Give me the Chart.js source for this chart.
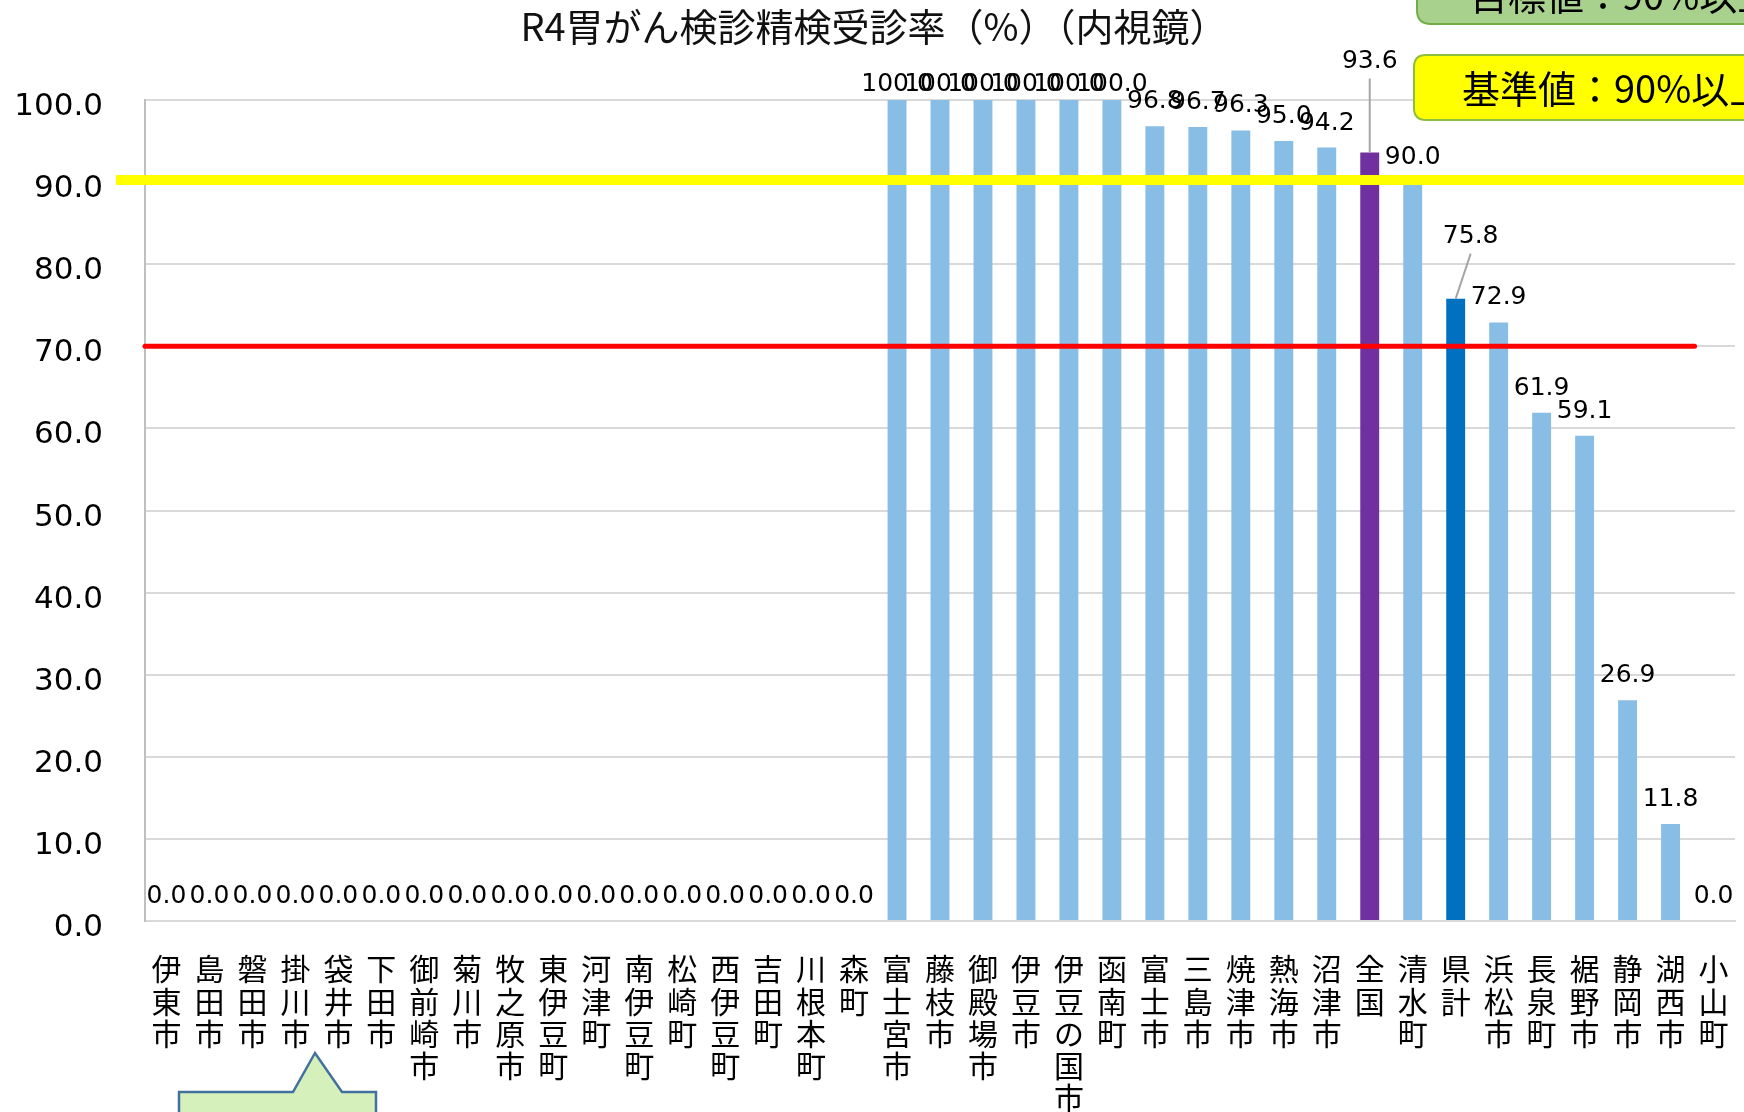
<!DOCTYPE html>
<html lang="ja">
<head>
<meta charset="UTF-8">
<title>R4胃がん検診精検受診率（内視鏡）</title>
<script src="https://cdn.jsdelivr.net/npm/chart.js@4.4.1/dist/chart.umd.min.js"></script>
<style>
  html, body { margin: 0; padding: 0; background: #fff; }
  #wrap { width: 1744px; height: 1112px; position: relative; overflow: hidden; }
</style>
</head>
<body>
<div id="wrap"><canvas id="chart" width="1744" height="1112"></canvas></div>
<script>
// chart data
const chartTitle = 'R4胃がん検診精検受診率（%）（内視鏡）';
const municipalities = [
    '伊東市', '島田市', '磐田市', '掛川市', '袋井市', '下田市', '御前崎市', '菊川市', '牧之原市',
    '東伊豆町', '河津町', '南伊豆町', '松崎町', '西伊豆町', '吉田町', '川根本町', '森町',
    '富士宮市', '藤枝市', '御殿場市', '伊豆市', '伊豆の国市', '函南町', '富士市', '三島市',
    '焼津市', '熱海市', '沼津市', '全国', '清水町', '県計', '浜松市', '長泉町', '裾野市',
    '静岡市', '湖西市', '小山町'
];
const rates = [
    0.0, 0.0, 0.0, 0.0, 0.0, 0.0, 0.0, 0.0, 0.0,
    0.0, 0.0, 0.0, 0.0, 0.0, 0.0, 0.0, 0.0,
    100.0, 100.0, 100.0, 100.0, 100.0, 100.0, 96.8, 96.7,
    96.3, 95.0, 94.2, 93.6, 90.0, 75.8, 72.9, 61.9, 59.1,
    26.9, 11.8, 0.0
];
const yTicks = [0, 10, 20, 30, 40, 50, 60, 70, 80, 90, 100];
const standardValue = 90;   // 基準値
const lowerValue = 70;
const targetText = '目標値：90%以上';
const standardText = '基準値：90%以上';

// colours
const barColor = '#88BEE6';
const nationalColor = '#7030A0';
const prefColor = '#0070C0';
const barColors = municipalities.map(m => m === '全国' ? nationalColor : (m === '県計' ? prefColor : barColor));

// labels that were pulled away from their bar (with a leader line)
const leaderLabels = {
    '全国': { dx: 0, dy: -85 },
    '県計': { dx: 15, dy: -56 }
};

// horizontal reference lines
const refLinesPlugin = {
    id: 'refLines',
    afterDatasetsDraw(chart) {
        const ctx = chart.ctx;
        const y = chart.scales.y;
        const x = chart.scales.x;
        const area = chart.chartArea;
        const redEnd = x.getPixelForValue(municipalities.length - 2) + 24;
        ctx.save();
        // thin orange line under the yellow one
        ctx.strokeStyle = '#ED7D31';
        ctx.lineWidth = 2;
        ctx.beginPath();
        ctx.moveTo(area.left, y.getPixelForValue(standardValue) + 2);
        ctx.lineTo(redEnd - 24, y.getPixelForValue(standardValue) + 2);
        ctx.stroke();
        // yellow 90% line
        ctx.strokeStyle = '#FFFF00';
        ctx.lineWidth = 10;
        ctx.beginPath();
        ctx.moveTo(area.left - 29, y.getPixelForValue(standardValue) - 2);
        ctx.lineTo(chart.width, y.getPixelForValue(standardValue) - 2);
        ctx.stroke();
        // red 70% line
        ctx.strokeStyle = '#FF0000';
        ctx.lineWidth = 5;
        ctx.lineCap = 'round';
        ctx.beginPath();
        ctx.moveTo(area.left, y.getPixelForValue(lowerValue));
        ctx.lineTo(redEnd, y.getPixelForValue(lowerValue));
        ctx.stroke();
        ctx.restore();
    }
};

// value labels above the bars
const barLabelsPlugin = {
    id: 'barLabels',
    afterDatasetsDraw(chart) {
        const ctx = chart.ctx;
        const meta = chart.getDatasetMeta(0);
        const top = chart.chartArea.top;
        ctx.save();
        ctx.font = '25px "DejaVu Sans", Verdana, sans-serif';
        ctx.fillStyle = '#000';
        ctx.textAlign = 'center';
        ctx.textBaseline = 'alphabetic';
        meta.data.forEach((bar, i) => {
            const text = rates[i].toFixed(1);
            const moved = leaderLabels[municipalities[i]];
            if (moved) {
                const lx = bar.x + moved.dx;
                const ly = bar.y + moved.dy;
                ctx.strokeStyle = '#A6A6A6';
                ctx.lineWidth = 2;
                ctx.beginPath();
                ctx.moveTo(lx, ly + 11);
                ctx.lineTo(bar.x, bar.y);
                ctx.stroke();
                ctx.fillText(text, lx, ly);
            } else {
                const ly = Math.max(bar.y - 18, top - 9);
                ctx.fillText(text, bar.x, ly);
            }
        });
        ctx.restore();
    }
};

function roundBox(ctx, x, y, w, h, r) {
    ctx.beginPath();
    ctx.moveTo(x + r, y);
    ctx.lineTo(x + w - r, y);
    ctx.quadraticCurveTo(x + w, y, x + w, y + r);
    ctx.lineTo(x + w, y + h - r);
    ctx.quadraticCurveTo(x + w, y + h, x + w - r, y + h);
    ctx.lineTo(x + r, y + h);
    ctx.quadraticCurveTo(x, y + h, x, y + h - r);
    ctx.lineTo(x, y + r);
    ctx.quadraticCurveTo(x, y, x + r, y);
    ctx.closePath();
}

// title and the callout boxes
const decorPlugin = {
    id: 'decor',
    afterDraw(chart) {
        const ctx = chart.ctx;
        ctx.save();
        ctx.fillStyle = '#111';
        ctx.font = '38px "Noto Sans CJK SC", "Noto Sans CJK JP", sans-serif';
        ctx.textAlign = 'center';
        ctx.textBaseline = 'middle';
        ctx.fillText(chartTitle, 874, 27);

        // 目標値 box (cut by the top edge)
        roundBox(ctx, 1417, -44, 360, 68, 14);
        ctx.fillStyle = '#A9D18E';
        ctx.fill();
        ctx.strokeStyle = '#70AD47';
        ctx.lineWidth = 2;
        ctx.stroke();
        ctx.fillStyle = '#000';
        ctx.textAlign = 'left';
        ctx.textBaseline = 'alphabetic';
        ctx.font = '38px "Noto Sans CJK JP", sans-serif';
        ctx.fillText(targetText, 1470, 10);

        // 基準値 box
        roundBox(ctx, 1414, 55, 360, 65, 12);
        ctx.fillStyle = '#FFFF00';
        ctx.fill();
        ctx.strokeStyle = '#8CBF3F';
        ctx.lineWidth = 2;
        ctx.stroke();
        ctx.fillStyle = '#000';
        ctx.textBaseline = 'middle';
        ctx.fillText(standardText, 1462, 89);

        // callout at the bottom
        ctx.beginPath();
        ctx.moveTo(179, 1130);
        ctx.lineTo(179, 1092);
        ctx.lineTo(293, 1092);
        ctx.lineTo(315, 1053);
        ctx.lineTo(342, 1092);
        ctx.lineTo(376, 1092);
        ctx.lineTo(376, 1130);
        ctx.closePath();
        ctx.fillStyle = '#D5F0BB';
        ctx.fill();
        ctx.strokeStyle = '#41719C';
        ctx.lineWidth = 2.5;
        ctx.stroke();
        ctx.restore();
    }
};

const ctx = document.getElementById('chart').getContext('2d');
new Chart(ctx, {
    type: 'bar',
    data: {
        labels: municipalities.map(m => m.split('')),
        datasets: [{
            label: chartTitle,
            data: rates,
            backgroundColor: barColors,
            barPercentage: 0.44,
            categoryPercentage: 1.0
        }]
    },
    options: {
        responsive: false,
        animation: false,
        layout: { padding: { top: 100, right: 9, left: 0, bottom: 0 } },
        plugins: {
            legend: { display: false },
            title: { display: false },
            tooltip: { enabled: false }
        },
        scales: {
            x: {
                grid: { display: false, drawTicks: false },
                border: { display: true, color: '#D9D9D9', width: 2 },
                ticks: {
                    color: '#000',
                    maxRotation: 0,
                    autoSkip: false,
                    padding: 32,
                    font: { family: '"Noto Sans CJK JP", sans-serif', size: 30, lineHeight: 1.07 }
                },
                afterFit(scale) {
                    scale.height = 191;
                    scale.paddingLeft = 0;
                    scale.paddingRight = 0;
                }
            },
            y: {
                min: 0,
                max: 100,
                afterBuildTicks(scale) {
                    scale.ticks = yTicks.map(v => ({ value: v }));
                },
                grid: { color: '#D9D9D9', lineWidth: 2, drawTicks: false },
                border: { display: true, color: '#BFBFBF', width: 2 },
                ticks: {
                    color: '#000',
                    padding: 42,
                    labelOffset: 7,
                    font: { family: '"DejaVu Sans", Verdana, sans-serif', size: 31 },
                    callback: v => Number(v).toFixed(1)
                },
                afterFit(scale) {
                    scale.width = 145;
                    scale.paddingTop = 0;
                    scale.paddingBottom = 0;
                }
            }
        }
    },
    plugins: [refLinesPlugin, barLabelsPlugin, decorPlugin]
});
</script>
</body>
</html>
